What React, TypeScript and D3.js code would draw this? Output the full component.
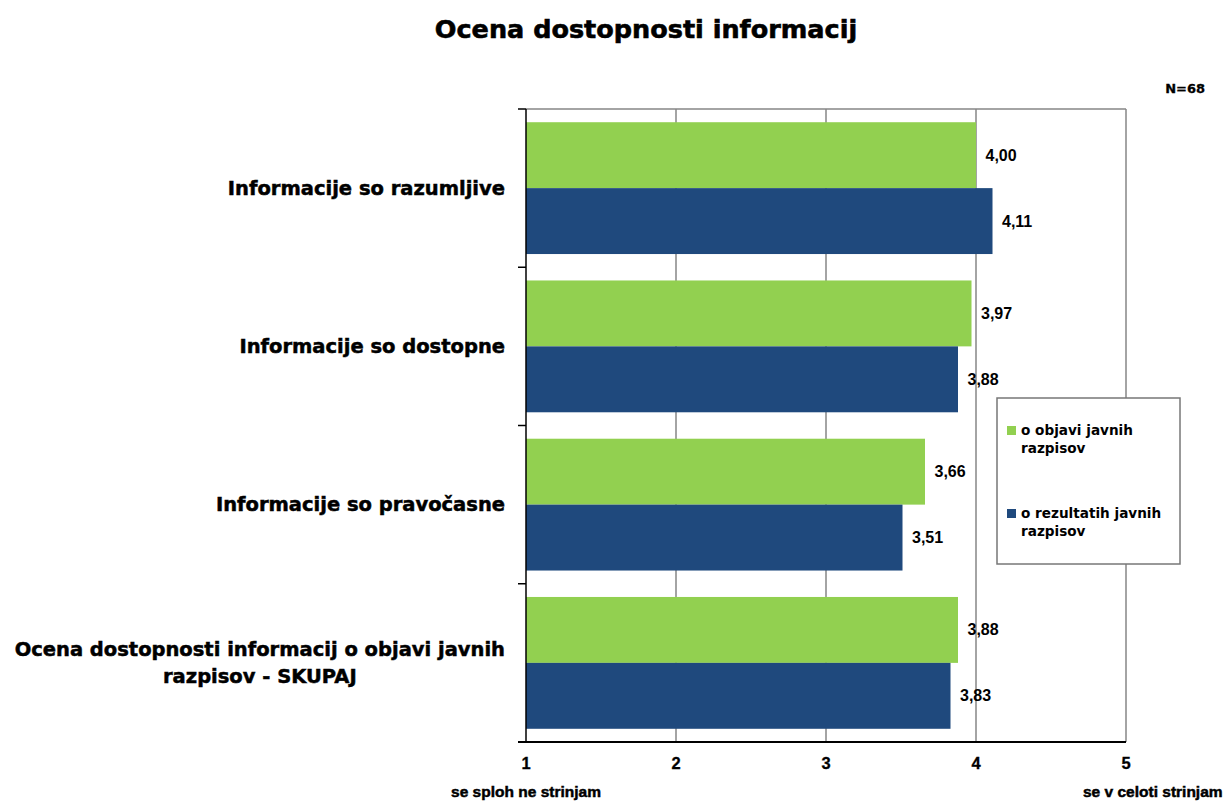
import React from "react";
import * as d3 from "d3";

const categories: string[][] = [
  ["Informacije so razumljive"],
  ["Informacije so dostopne"],
  ["Informacije so pravočasne"],
  ["Ocena dostopnosti informacij o objavi javnih", "razpisov - SKUPAJ"],
];
const seriesNames: string[][] = [
  ["o objavi javnih", "razpisov"],
  ["o rezultatih javnih", "razpisov"],
];
const seriesColors = ["#92D050", "#1F497D"];
const objavi = [4.0, 3.97, 3.66, 3.88];
const rezultati = [4.11, 3.88, 3.51, 3.83];
const xTicks = [1, 2, 3, 4, 5];
const title = "Ocena dostopnosti informacij";
const nLabel = "N=68";
const leftEndLabel = "se sploh ne strinjam";
const rightEndLabel = "se v celoti strinjam";

const W = 1229;
const H = 801;
const M = { left: 526, right: 1126, top: 109, bottom: 742 };
const catFont = "bold 19.5px 'DejaVu Sans'";

function measure(text: string, font: string): number {
  const c = document.createElement("canvas");
  const ctx = c.getContext("2d")!;
  ctx.font = font;
  return ctx.measureText(text).width;
}

export default function App() {
  const x = d3.scaleLinear().domain([1, 5]).range([M.left, M.right]);
  const y = d3
    .scaleBand<number>()
    .domain(d3.range(categories.length))
    .range([M.top, M.bottom])
    .paddingInner(0.167)
    .paddingOuter(0.0835);
  const inner = d3.scaleBand<number>().domain([0, 1]).range([0, y.bandwidth()]);
  const series = [objavi, rezultati];
  const step = y.step();
  const boundaries = d3.range(categories.length + 1).map((i) => M.top + i * step);
  const fmt = (v: number) => v.toFixed(2).replace(".", ",");
  const labelRight = 505;

  return (
    <svg width={W} height={H} style={{ display: "block", position: "absolute", left: 0, top: 0 }}>
      <rect x={0} y={0} width={W} height={H} fill="#fff" />
      <text x={646} y={38} textAnchor="middle" fontFamily="DejaVu Sans" fontWeight="bold" fontSize={25.5} fill="#000" stroke="#000" strokeWidth={0.6}>
        {title}
      </text>
      <text x={1205} y={93} textAnchor="end" fontFamily="DejaVu Sans" fontWeight="bold" fontSize={13} fill="#000" stroke="#000" strokeWidth={0.3}>
        {nLabel}
      </text>
      {/* top border */}
      <line x1={M.left} x2={M.right} y1={M.top} y2={M.top} stroke="#868686" strokeWidth={1.5} />
      {/* gridlines */}
      {xTicks.slice(1).map((t) => (
        <line key={t} x1={x(t)} x2={x(t)} y1={M.top} y2={M.bottom} stroke="#868686" strokeWidth={1.5} />
      ))}
      {/* bars */}
      {series.map((vals, si) =>
        vals.map((v, ci) => (
          <rect
            key={`${si}-${ci}`}
            x={x(1)}
            y={(y(ci) as number) + (inner(si) as number)}
            width={x(v) - x(1)}
            height={inner.bandwidth()}
            fill={seriesColors[si]}
          />
        ))
      )}
      {/* value labels */}
      {series.map((vals, si) =>
        vals.map((v, ci) => (
          <text
            key={`l${si}-${ci}`}
            x={x(v) + 9.5}
            y={(y(ci) as number) + (inner(si) as number) + inner.bandwidth() / 2}
            dominantBaseline="central"
            fontFamily="Liberation Sans, Arial"
            fontWeight="bold"
            fontSize={16}
            fill="#000"
          >
            {fmt(v)}
          </text>
        ))
      )}
      {/* axes */}
      <line x1={M.left} x2={M.left} y1={M.top} y2={M.bottom} stroke="#000" strokeWidth={1.5} />
      <line x1={518} x2={M.right} y1={M.bottom} y2={M.bottom} stroke="#000" strokeWidth={2} />
      {boundaries.map((b, i) => (
        <line key={i} x1={518} x2={M.left} y1={b} y2={b} stroke="#000" strokeWidth={1.5} />
      ))}
      {xTicks.map((t) => (
        <text key={t} x={x(t)} y={769} textAnchor="middle" fontFamily="Liberation Sans, Arial" fontWeight="bold" fontSize={16.5} fill="#000" stroke="#000" strokeWidth={0.3}>
          {t}
        </text>
      ))}
      <text x={x(1)} y={797} textAnchor="middle" fontFamily="Liberation Sans, Arial" fontWeight="bold" fontSize={15.5} fill="#000" stroke="#000" strokeWidth={0.5}>
        {leftEndLabel}
      </text>
      <text x={1083} y={797} textAnchor="start" fontFamily="Liberation Sans, Arial" fontWeight="bold" fontSize={15.5} fill="#000" stroke="#000" strokeWidth={0.5}>
        {rightEndLabel}
      </text>
      {/* category labels */}
      {categories.map((lines, ci) => {
        const cy = (y(ci) as number) + y.bandwidth() / 2;
        const lh = 27;
        const w0 = measure(lines[0], catFont);
        const center = labelRight - w0 / 2;
        return lines.map((ln, li) => (
          <text
            key={`${ci}-${li}`}
            x={lines.length > 1 ? center : labelRight}
            y={cy + (li - (lines.length - 1) / 2) * lh}
            textAnchor={lines.length > 1 ? "middle" : "end"}
            dominantBaseline="central"
            fontFamily="DejaVu Sans"
            fontWeight="bold"
            fontSize={19.5}
            fill="#000"
            stroke="#000"
            strokeWidth={0.5}
          >
            {ln}
          </text>
        ));
      })}
      {/* legend */}
      <rect x={997} y={398} width={183} height={166} fill="#fff" stroke="#777" strokeWidth={1.5} />
      {seriesNames.map((lines, si) => {
        const base = si === 0 ? 435 : 518;
        return (
          <g key={si}>
            <rect x={1007} y={base - 9} width={9} height={9} fill={seriesColors[si]} />
            {lines.map((ln, li) => (
              <text key={li} x={1021} y={base + li * 18} fontFamily="DejaVu Sans" fontWeight="bold" fontSize={13.6} fill="#000">
                {ln}
              </text>
            ))}
          </g>
        );
      })}
    </svg>
  );
}
